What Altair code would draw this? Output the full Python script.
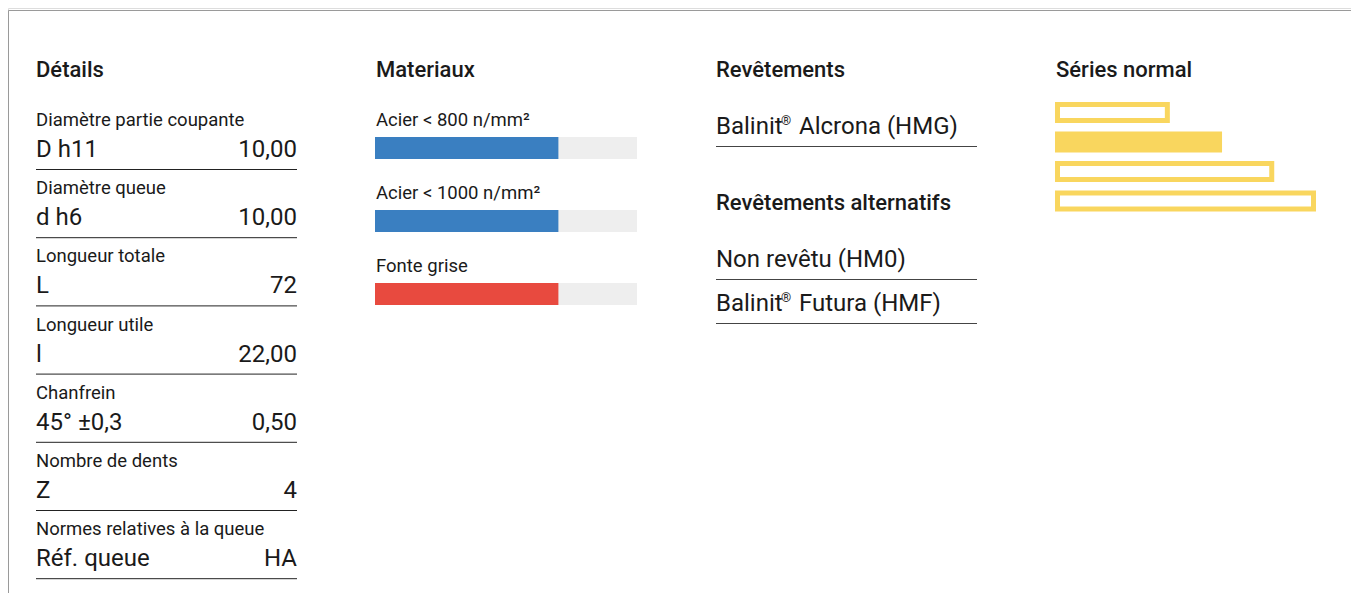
import altair as alt
import pandas as pd

# ---------------- data ----------------
headings = ["Détails", "Materiaux", "Revêtements", "Séries normal"]

detail_labels = ["Diamètre partie coupante", "Diamètre queue", "Longueur totale",
                 "Longueur utile", "Chanfrein", "Nombre de dents",
                 "Normes relatives à la queue"]
detail_symbols = ["D h11", "d h6", "L", "l", "45° ±0,3", "Z", "Réf. queue"]
detail_values = ["10,00", "10,00", "72", "22,00", "0,50", "4", "HA"]

material_names = ["Acier < 800 n/mm²", "Acier < 1000 n/mm²", "Fonte grise"]
material_scores = [70, 70, 70]
material_colors = ["#3a7fc1", "#3a7fc1", "#e84a3f"]

coating_title = "Revêtements"
coatings_main = ["Balinit® Alcrona (HMG)"]
alt_title = "Revêtements alternatifs"
coatings_alt = ["Non revêtu (HM0)", "Balinit® Futura (HMF)"]

series_lengths = [44, 64, 84, 100]
series_filled = [False, True, False, False]

# ---------------- layout ----------------
W, H = 1343, 585
PX = alt.Scale(domain=[8, 8 + W], range=[0, W])
PY = alt.Scale(domain=[8, 8 + H], range=[0, H])
COL_X = [36 + 340 * k for k in range(4)]
COL_W = 261
BODY = "Roboto"
HEAD = "Roboto"
INK = "#1a1a1a"
LABEL_SIZE = 18.5
VALUE_SIZE = 24


def xq(field):
    return alt.X(field, type="quantitative", scale=PX, axis=None)


def yq(field):
    return alt.Y(field, type="quantitative", scale=PY, axis=None)


layers = []

# card border
border = pd.DataFrame({"x": [8.5, 8.5], "x2": [1351, 8.5], "y": [10.5, 10.5], "y2": [10.5, 593]})
layers.append(alt.Chart(border).mark_rule(color="#9a9a9a", strokeWidth=1).encode(
    x=xq("x"), x2="x2", y=yq("y"), y2="y2"))

# headings
hd = pd.DataFrame({"t": headings, "x": COL_X, "y": [77] * 4})
layers.append(alt.Chart(hd).mark_text(align="left", baseline="alphabetic", font=HEAD,
                                      fontSize=22, fontWeight=500, color=INK).encode(
    x=xq("x"), y=yq("y"), text="t:N"))

# details column
ROW = 68.2
det = pd.DataFrame({
    "label": detail_labels, "sym": detail_symbols, "val": detail_values,
    "i": list(range(len(detail_labels)))})
det["x"] = COL_X[0]
det["xr"] = COL_X[0] + COL_W
det["yl"] = 126 + det["i"] * ROW
det["yv"] = 157 + det["i"] * ROW
det["yr"] = 169.5 + det["i"] * ROW
base = alt.Chart(det)
layers.append(base.mark_text(align="left", baseline="alphabetic", font=BODY, fontSize=LABEL_SIZE,
                             color=INK).encode(x=xq("x"), y=yq("yl"), text="label:N"))
layers.append(base.mark_text(align="left", baseline="alphabetic", font=BODY, fontSize=VALUE_SIZE,
                             color=INK).encode(x=xq("x"), y=yq("yv"), text="sym:N"))
layers.append(base.mark_text(align="right", baseline="alphabetic", font=BODY, fontSize=VALUE_SIZE,
                             color=INK).encode(x=xq("xr"), y=yq("yv"), text="val:N"))
layers.append(base.mark_rule(color="#222222", strokeWidth=1).encode(
    x=xq("x"), x2="xr", y=yq("yr")))

# materials column
MROW = 73
mat = pd.DataFrame({"name": material_names, "score": material_scores,
                    "color": material_colors, "i": list(range(len(material_names)))})
mat["x"] = COL_X[1]
mat["yl"] = 126 + mat["i"] * MROW
mat["yt"] = 137 + mat["i"] * MROW
mat["yb"] = 159 + mat["i"] * MROW
mat["zero"] = 0
mat["full"] = 100
MSCALE = alt.Scale(domain=[0, 100], range=[375 - 8, 637 - 8])
mbase = alt.Chart(mat)
layers.append(mbase.mark_text(align="left", baseline="alphabetic", font=BODY, fontSize=LABEL_SIZE,
                              color=INK).encode(x=xq("x"), y=yq("yl"), text="name:N"))
layers.append(mbase.mark_rect(color="#eeeeee").encode(
    x=alt.X("zero:Q", scale=MSCALE, axis=None), x2="full:Q", y=yq("yt"), y2="yb:Q"))
layers.append(mbase.mark_rect().encode(
    x=alt.X("zero:Q", scale=MSCALE, axis=None), x2="score:Q", y=yq("yt"), y2="yb:Q",
    color=alt.Color("color:N", scale=None)))


# coatings column
def coating_layers(items, first_line):
    out = []
    rows = []
    for k, name in enumerate(items):
        line_y = first_line + 44 * k
        if "®" in name:
            pre, post = name.split("®", 1)
        else:
            pre, post = name, ""
        rows.append({"pre": pre.strip(), "post": post.strip(), "reg": "®" if post else "",
                     "x": COL_X[2], "xr": COL_X[2] + COL_W,
                     "yb": line_y - 12, "yr": line_y + 0.5})
    df = pd.DataFrame(rows)
    b = alt.Chart(df)
    out.append(b.mark_text(align="left", baseline="alphabetic", font=BODY, fontSize=VALUE_SIZE,
                           color=INK).encode(x=xq("x"), y=yq("yb"), text="pre:N"))
    out.append(b.mark_text(align="left", baseline="alphabetic", font=BODY, fontSize=13,
                           dx=65, dy=-9, color=INK).encode(x=xq("x"), y=yq("yb"), text="reg:N"))
    out.append(b.mark_text(align="left", baseline="alphabetic", font=BODY, fontSize=VALUE_SIZE,
                           dx=83, color=INK).encode(x=xq("x"), y=yq("yb"), text="post:N"))
    out.append(b.mark_rule(color="#444444", strokeWidth=1).encode(
        x=xq("x"), x2="xr", y=yq("yr")))
    return out


layers += coating_layers(coatings_main, 146)
sub = pd.DataFrame({"t": [alt_title], "x": [COL_X[2]], "y": [210]})
layers.append(alt.Chart(sub).mark_text(align="left", baseline="alphabetic", font=HEAD,
                                       fontSize=22, fontWeight=500, color=INK).encode(
    x=xq("x"), y=yq("y"), text="t:N"))
layers += coating_layers(coatings_alt, 279)

# series column
ser = pd.DataFrame({"len": series_lengths, "filled": series_filled,
                    "i": list(range(len(series_lengths)))})
ser["zero"] = 0
ser["yt"] = 102 + ser["i"] * 29.5
ser["yb"] = ser["yt"] + 21
SSCALE = alt.Scale(domain=[0, 100], range=[1055 - 8, 1316 - 8])
sbase = alt.Chart(ser)
layers.append(sbase.mark_rect(color="#f9d65e").encode(
    x=alt.X("zero:Q", scale=SSCALE, axis=None), x2="len:Q", y=yq("yt"), y2="yb:Q"))
layers.append(sbase.transform_filter("!datum.filled").mark_rect(
    color="white", xOffset=5, x2Offset=-5, yOffset=5, y2Offset=-5).encode(
    x=alt.X("zero:Q", scale=SSCALE, axis=None), x2="len:Q", y=yq("yt"), y2="yb:Q"))

chart = alt.layer(*layers).resolve_scale(x="independent").properties(
    width=W, height=H, padding=0, autosize=alt.AutoSizeParams(type="none")
).configure_view(stroke=None).configure(background="white")

chart.save("out.html", embed_options={"renderer": "svg", "actions": False})
